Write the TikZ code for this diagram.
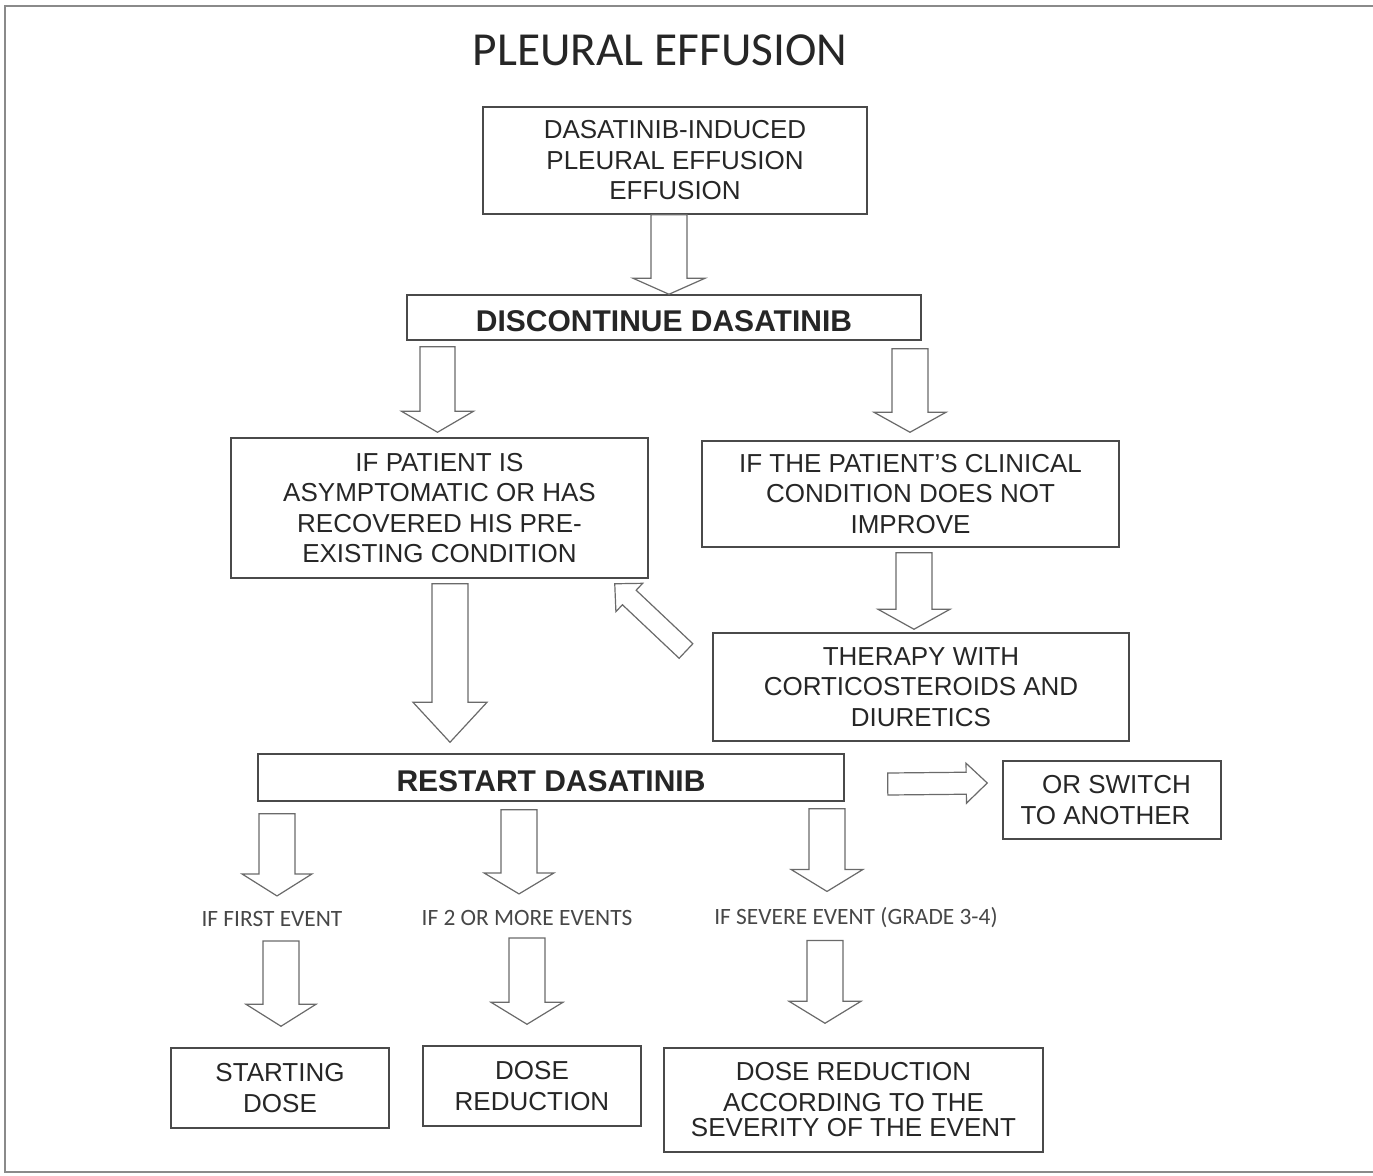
\documentclass[tikz,border=0pt]{standalone}
\usepackage{fontspec}
\setmainfont{Liberation Sans}
\newfontfamily\calib{Carlito}
\usetikzlibrary{calc}
\definecolor{boxcol}{HTML}{4A4A4A}
\definecolor{arrcol}{HTML}{6A6A6A}
\definecolor{txt}{HTML}{262626}
\definecolor{lbl}{HTML}{474747}
\definecolor{framecol}{HTML}{8A8A8A}
\tikzset{
  box/.style={draw=boxcol, line width=0.75pt, inner sep=0pt, align=center,
    font=\fontsize{13}{15.25}\selectfont, text=txt},
  boldbox/.style={box, font=\fontsize{15}{17}\selectfont\bfseries, text height=13.5pt, text depth=0pt},
  lab/.style={inner sep=0pt, font=\calib\fontsize{11.7}{14}\selectfont, text=lbl},
  blockarr/.style={draw=arrcol, line width=0.6pt, fill=white, line join=miter},
}
% #1 start, #2 tip, #3 shaft half width, #4 head half width, #5 head length (all pt)
\newcommand\barrow[5]{%
  \coordinate (ba-s) at #1;
  \coordinate (ba-t) at #2;
  \coordinate (ba-h) at ($(ba-t)!#5!(ba-s)$);
  \draw[blockarr] ($(ba-s)!#3!90:(ba-t)$) -- ($(ba-h)!#3!-90:(ba-s)$) --
    ($(ba-h)!#4!-90:(ba-s)$) -- (ba-t) -- ($(ba-h)!#4!90:(ba-s)$) --
    ($(ba-h)!#3!90:(ba-s)$) -- ($(ba-s)!#3!-90:(ba-t)$) -- cycle;}
\begin{document}
\begin{tikzpicture}[x=0.5pt,y=-0.5pt]
\useasboundingbox (0,0) rectangle (1373,1175);
\draw[framecol, line width=0.7pt] (1373,6) -- (5,6) -- (5,1172) -- (1373,1172);

\node[inner sep=0pt, font=\calib\fontsize{23.7}{28}\selectfont, text=txt] (title) at (660,50) {PLEURAL EFFUSION};

\node[box, minimum width=192pt, minimum height=53.5pt] (b1) at (675,160.5)
  {DASATINIB-INDUCED\\PLEURAL EFFUSION\\EFFUSION};
\node[boldbox, minimum width=257pt, minimum height=22.5pt] (b2) at (664,317.5)
  {DISCONTINUE DASATINIB};
\node[box, minimum width=208.5pt, minimum height=70pt] (b3) at (439.5,508)
  {IF PATIENT IS\\ASYMPTOMATIC OR HAS\\RECOVERED HIS PRE-\\EXISTING CONDITION};
\node[box, minimum width=208.5pt, minimum height=53pt] (b4) at (910.5,494)
  {IF THE PATIENT'S CLINICAL\\CONDITION DOES NOT\\IMPROVE};
\node[box, minimum width=208pt, minimum height=54pt] (b5) at (921,687)
  {THERAPY WITH\\CORTICOSTEROIDS AND\\DIURETICS};
\node[boldbox, minimum width=293pt, minimum height=23.5pt] (b6) at (551,777.5)
  {RESTART DASATINIB};
\node[box, minimum width=109pt, minimum height=39pt] (b7) at (1112,800)
  {\hspace*{11pt}OR SWITCH\hspace*{6.5pt}\\TO ANOTHER\hspace*{6.5pt}};
\node[box, minimum width=109pt, minimum height=40pt] (bA) at (280,1088)
  {STARTING\\DOSE};
\node[box, minimum width=109pt, minimum height=40pt] (bB) at (532,1086)
  {DOSE\\REDUCTION};
\node[box, minimum width=189.5pt, minimum height=52pt] (bC) at (853.5,1100)
  {DOSE REDUCTION\\ACCORDING TO THE\\[-2.5pt]SEVERITY OF THE EVENT};

\node[lab] (lA) at (272,919) {IF FIRST EVENT};
\node[lab] (lB) at (527,918) {IF 2 OR MORE EVENTS};
\node[lab] (lC) at (856,918) {IF SEVERE EVENT (GRADE 3-4)};

% connectors
\barrow{(669,0 |- b1.south)}{(669,0 |- b2.north)}{9pt}{18pt}{8pt}
\barrow{($(437.5,0 |- b2.south)+(0,6)$)}{($(437.5,0 |- b3.north)+(0,-5)$)}{8.75pt}{18pt}{10.5pt}
\barrow{($(910,0 |- b2.south)+(0,8)$)}{($(910,0 |- b4.north)+(0,-8)$)}{9pt}{18pt}{10pt}
\barrow{($(914,0 |- b4.south)+(0,5)$)}{($(914,0 |- b5.north)+(0,-3)$)}{9pt}{18pt}{10pt}
\barrow{($(450,0 |- b3.south)+(0,5)$)}{($(450,0 |- b6.north)+(0,-11)$)}{9pt}{18.5pt}{20pt}
\barrow{(686,651)}{($(b3.south east)+(-34,5)$)}{5pt}{9.75pt}{10pt}
\barrow{($(b6.east)+(43,6.5)$)}{($(b7.west)+(-15,-17)$)}{5.5pt}{10pt}{10.5pt}
\barrow{($(277,0 |- b6.south)+(0,12)$)}{($(277,0 |- lA.north)+(0,-15)$)}{9pt}{17.5pt}{11pt}
\barrow{($(519,0 |- b6.south)+(0,8)$)}{($(519,0 |- lB.north)+(0,-16)$)}{9pt}{17.5pt}{10.5pt}
\barrow{($(827,0 |- b6.south)+(0,7)$)}{($(827,0 |- lC.north)+(0,-16)$)}{9pt}{18pt}{11pt}
\barrow{($(281,0 |- lA.south)+(0,14)$)}{($(281,0 |- bA.north)+(0,-21)$)}{9pt}{17.5pt}{11pt}
\barrow{($(527,0 |- lB.south)+(0,12)$)}{($(527,0 |- bB.north)+(0,-21)$)}{9pt}{18pt}{11pt}
\barrow{($(825,0 |- lC.south)+(0,12)$)}{($(825,0 |- bC.north)+(0,-24)$)}{9pt}{18pt}{11pt}
\end{tikzpicture}
\end{document}
